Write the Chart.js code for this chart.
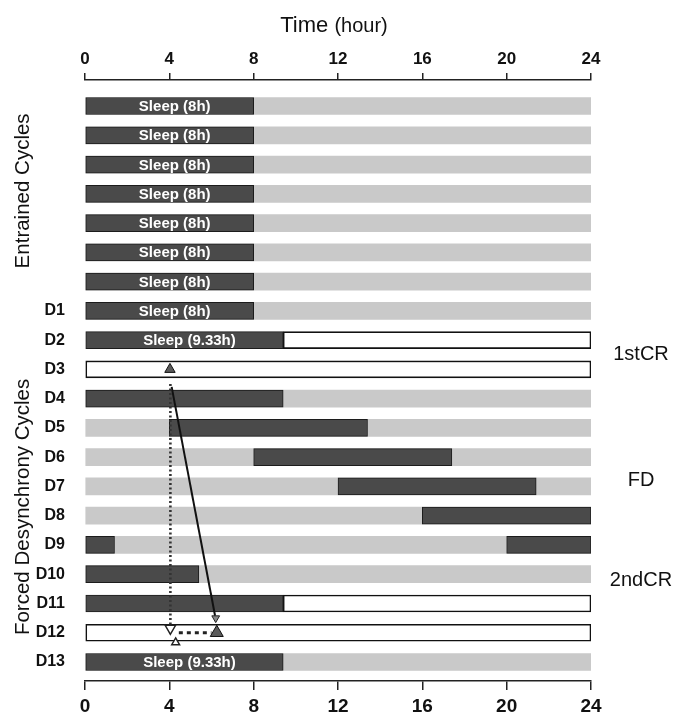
<!DOCTYPE html>
<html><head><meta charset="utf-8">
<script src="https://cdn.jsdelivr.net/npm/chart.js@4"></script>
<style>html,body{margin:0;padding:0;background:#fff}#wrap{width:688px;height:712px}</style>
</head><body><div id="wrap"><canvas id="c" width="688" height="712"></canvas></div>
<script>
// ---------- data ----------
const rowLabels = ['', '', '', '', '', '', '', 'D1', 'D2', 'D3', 'D4', 'D5', 'D6', 'D7', 'D8', 'D9', 'D10', 'D11', 'D12', 'D13'];
const hourTicks = [0, 4, 8, 12, 16, 20, 24];

// light grey (wake) background per row
const wakeStart = [0, 0, 0, 0, 0, 0, 0, 0, null, null, 0, 0, 0, 0, 0, 0, 0, null, null, 0];
const wakeEnd   = [24, 24, 24, 24, 24, 24, 24, 24, null, null, 24, 24, 24, 24, 24, 24, 24, null, null, 24];
// constant-routine (white) boxes
const crStart = [null, null, null, null, null, null, null, null, 9.4, 0, null, null, null, null, null, null, null, 9.4, 0, null];
const crEnd   = [null, null, null, null, null, null, null, null, 24, 24, null, null, null, null, null, null, null, 24, 24, null];
// sleep episodes
const sleepStart = [0, 0, 0, 0, 0, 0, 0, 0, 0, null, 0, 4, 8, 12, 16, 0, 0, 0, null, 0];
const sleepEnd   = [8, 8, 8, 8, 8, 8, 8, 8, 9.4, null, 9.4, 13.4, 17.4, 21.4, 24, 1.4, 5.4, 9.4, null, 9.4];
const sleep2Start = [null, null, null, null, null, null, null, null, null, null, null, null, null, null, null, 20, null, null, null, null];
const sleep2End   = [null, null, null, null, null, null, null, null, null, null, null, null, null, null, null, 24, null, null, null, null];
const sleepText = ['Sleep (8h)', 'Sleep (8h)', 'Sleep (8h)', 'Sleep (8h)', 'Sleep (8h)', 'Sleep (8h)', 'Sleep (8h)', 'Sleep (8h)',
                   'Sleep (9.33h)', '', '', '', '', '', '', '', '', '', '', 'Sleep (9.33h)'];

// markers and connecting lines (x = hour, y = row)
const filledTriX = [4.03, 6.25];
const filledTriY = [9.0, 18.0];
const dottedX = [4.05, 4.05];
const dottedY = [9.5, 17.72];
const solidX = [4.11, 6.17];
const solidY = [9.6, 17.42];
const dashedX = [4.45, 6.0];
const dashedY = [18.0, 18.0];
const openDownX = [4.05];
const openDownY = [17.85];
const arrowX = [6.2];
const arrowY = [17.5];
const openUpX = [4.3];
const openUpY = [18.33];

// side texts
const phaseLabels = ['1stCR', 'FD', '2ndCR'];
const phaseRows = [8.5, 12.8, 16.2];
const groupLabels = ['Entrained Cycles', 'Forced Desynchrony Cycles'];
const groupRows = [2.9, 13.7];

// ---------- helpers ----------
const FONT = "'Liberation Sans', Arial, Helvetica, sans-serif";
function seg(starts, ends) {
  return starts.map((s, i) => s === null ? null : {y: i, x: [s, ends[i]]}).filter(Boolean);
}
function pts(xs, ys) { return xs.map((x, i) => ({x: x, y: ys[i]})); }

const barBase = {type: 'bar', indexAxis: 'y', grouped: false, barThickness: 17, borderSkipped: false, xAxisID: 'x', yAxisID: 'y'};
const lineBase = {type: 'line', xAxisID: 'x', yAxisID: 'y', fill: false, tension: 0};

const textPlugin = {
  id: 'texts',
  afterDatasetsDraw(chart) {
    const ctx = chart.ctx;
    const ds = chart.data.datasets[2];
    const meta = chart.getDatasetMeta(2);
    ctx.save();
    ctx.fillStyle = '#fff';
    ctx.font = 'bold 15px ' + FONT;
    ctx.textAlign = 'center';
    ctx.textBaseline = 'middle';
    meta.data.forEach((el, j) => {
      const t = sleepText[ds.data[j].y];
      if (!t) return;
      ctx.fillText(t, (el.x + el.base) / 2 + 5, el.y + 1);
    });
    ctx.restore();
  },
  afterDraw(chart) {
    const ctx = chart.ctx;
    const ys = chart.scales.y;
    ctx.save();
    ctx.fillStyle = '#111';
    ctx.textBaseline = 'middle';
    ctx.font = '22px ' + FONT;
    const w1 = ctx.measureText('Time ').width;
    ctx.font = '20px ' + FONT;
    const w2 = ctx.measureText('(hour)').width;
    const x0 = 334 - (w1 + w2) / 2;
    ctx.textAlign = 'left';
    ctx.font = '22px ' + FONT;
    ctx.fillText('Time ', x0, 26);
    ctx.font = '20px ' + FONT;
    ctx.fillText('(hour)', x0 + w1, 26);
    ctx.textAlign = 'center';
    ctx.font = '20px ' + FONT;
    phaseLabels.forEach((t, i) => ctx.fillText(t, 641, ys.getPixelForValue(phaseRows[i])));
    ctx.font = '20.5px ' + FONT;
    groupLabels.forEach((t, i) => {
      ctx.save();
      ctx.translate(23, ys.getPixelForValue(groupRows[i]));
      ctx.rotate(-Math.PI / 2);
      ctx.fillText(t, 0, 0);
      ctx.restore();
    });
    ctx.restore();
  }
};

const darkBar = {backgroundColor: '#4a4a4a', borderColor: '#1c1c1c', borderWidth: 1};

new Chart(document.getElementById('c'), {
  type: 'bar',
  data: {
    datasets: [
      Object.assign({}, barBase, {label: 'wake', data: seg(wakeStart, wakeEnd), backgroundColor: '#c9c9c9', borderWidth: 0, order: 5}),
      Object.assign({}, barBase, {label: 'constant routine', data: seg(crStart, crEnd), backgroundColor: '#ffffff', borderColor: '#111', borderWidth: 1.6, order: 4}),
      Object.assign({}, barBase, darkBar, {label: 'sleep', data: seg(sleepStart, sleepEnd), order: 3}),
      Object.assign({}, barBase, darkBar, {label: 'sleep2', data: seg(sleep2Start, sleep2End), order: 3}),
      Object.assign({}, lineBase, {label: 'dotted', data: pts(dottedX, dottedY), borderColor: '#333', borderWidth: 2.6, borderDash: [2, 2.5], pointRadius: 0, order: 2}),
      Object.assign({}, lineBase, {label: 'solid', data: pts(solidX, solidY), borderColor: '#111', borderWidth: 2, pointRadius: 0, order: 2}),
      Object.assign({}, lineBase, {label: 'dashed', data: pts(dashedX, dashedY), borderColor: '#222', borderWidth: 3, borderDash: [4, 4], pointRadius: 0, order: 2}),
      Object.assign({}, lineBase, {label: 'filled', data: pts(filledTriX, filledTriY), showLine: false, pointStyle: 'triangle', pointRadius: [6, 7.5], pointBackgroundColor: '#5a5a5a', pointBorderColor: '#111', pointBorderWidth: 1, order: 1}),
      Object.assign({}, lineBase, {label: 'openDown', data: pts(openDownX, openDownY), showLine: false, pointStyle: 'triangle', rotation: 180, pointRadius: 6, pointBackgroundColor: '#fff', pointBorderColor: '#222', pointBorderWidth: 1.5, order: 1}),
      Object.assign({}, lineBase, {label: 'arrow', data: pts(arrowX, arrowY), showLine: false, pointStyle: 'triangle', rotation: 180, pointRadius: 4.5, pointBackgroundColor: '#888', pointBorderColor: '#222', pointBorderWidth: 1, order: 1}),
      Object.assign({}, lineBase, {label: 'openUp', data: pts(openUpX, openUpY), showLine: false, pointStyle: 'triangle', pointRadius: 4.5, pointBackgroundColor: '#fff', pointBorderColor: '#222', pointBorderWidth: 1.5, order: 1})
    ]
  },
  options: {
    responsive: false,
    animation: false,
    layout: {padding: {left: 0, right: 97, top: 0, bottom: 0}},
    plugins: {legend: {display: false}, tooltip: {enabled: false}},
    scales: {
      x: {
        type: 'linear', position: 'top', min: 0, max: 24, offset: false,
        afterBuildTicks: s => { s.ticks = hourTicks.map(v => ({value: v})); },
        afterFit: s => { s.height = 80; },
        ticks: {font: {family: FONT, size: 17, weight: 'bold'}, color: '#111', padding: 3, maxRotation: 0, autoSkip: false},
        grid: {offset: false, drawOnChartArea: false, drawTicks: true, tickLength: 7, color: '#222', lineWidth: 1.5},
        border: {display: true, color: '#222', width: 1.5}
      },
      x2: {
        type: 'linear', position: 'bottom', min: 0, max: 24, offset: false,
        afterBuildTicks: s => { s.ticks = hourTicks.map(v => ({value: v})); },
        afterFit: s => { s.height = 31; },
        ticks: {font: {family: FONT, size: 19, weight: 'bold'}, color: '#111', padding: 5, maxRotation: 0, autoSkip: false},
        grid: {offset: false, drawOnChartArea: false, drawTicks: true, tickLength: 9, color: '#222', lineWidth: 1.5},
        border: {display: true, color: '#222', width: 1.5}
      },
      y: {
        type: 'linear', min: -0.89, max: 19.65, reverse: true, offset: false,
        afterBuildTicks: s => { s.ticks = rowLabels.map((_, i) => ({value: i})); },
        afterFit: s => { s.width = 85; },
        ticks: {callback: v => rowLabels[v] || '', font: {family: FONT, size: 16, weight: 'bold'}, color: '#111', padding: 12, autoSkip: false},
        grid: {display: false, offset: false},
        border: {display: false}
      }
    }
  },
  plugins: [textPlugin]
});
</script>
</body></html>
